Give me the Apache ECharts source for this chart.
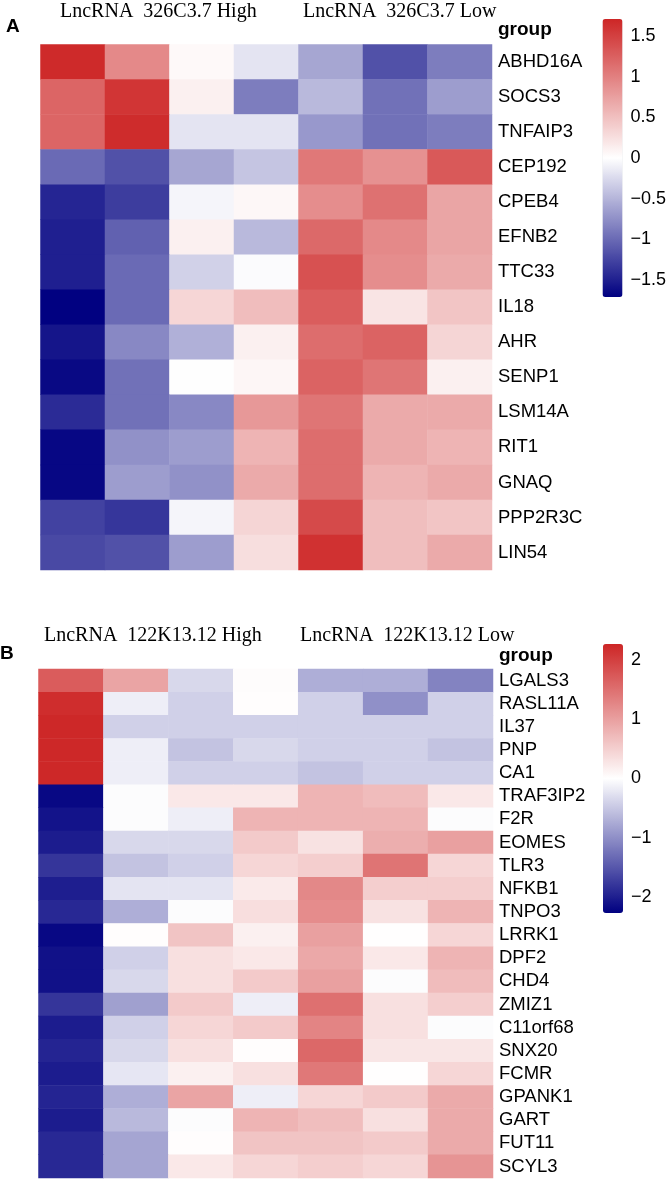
<!DOCTYPE html>
<html>
<head>
<meta charset="utf-8">
<script src="https://cdn.jsdelivr.net/npm/echarts@6.0.0/dist/echarts.min.js"></script>
<style>
  html, body { margin: 0; padding: 0; background: #fff; }
  #chart { width: 671px; height: 1187px; }
</style>
</head>
<body>
<div id="chart"></div>
<script>
  /* ---- data: panel A (LncRNA 326C3.7) ---- */
  const groupsA = ['High', 'High', 'High', 'High', 'Low', 'Low', 'Low'];
  const genesA = ['ABHD16A', 'SOCS3', 'TNFAIP3', 'CEP192', 'CPEB4', 'EFNB2', 'TTC33',
    'IL18', 'AHR', 'SENP1', 'LSM14A', 'RIT1', 'GNAQ', 'PPP2R3C', 'LIN54'];
  const valuesA = [
    [1.68, 0.93, 0.05, -0.18, -0.60, -1.17, -0.87],
    [1.21, 1.59, 0.12, -0.87, -0.47, -0.95, -0.66],
    [1.21, 1.66, -0.18, -0.18, -0.69, -0.95, -0.87],
    [-1.00, -1.17, -0.60, -0.39, 1.06, 0.87, 1.31],
    [-1.46, -1.30, -0.07, 0.06, 0.90, 1.12, 0.71],
    [-1.50, -1.06, 0.12, -0.47, 1.18, 0.93, 0.71],
    [-1.50, -1.00, -0.31, -0.03, 1.37, 0.90, 0.67],
    [-1.70, -1.00, 0.32, 0.52, 1.28, 0.21, 0.46],
    [-1.57, -0.80, -0.53, 0.12, 1.15, 1.23, 0.33],
    [-1.65, -0.95, -0.01, 0.07, 1.23, 1.09, 0.12],
    [-1.42, -0.95, -0.80, 0.81, 1.09, 0.67, 0.67],
    [-1.66, -0.74, -0.66, 0.59, 1.15, 0.67, 0.59],
    [-1.66, -0.66, -0.74, 0.67, 1.15, 0.59, 0.67],
    [-1.27, -1.35, -0.07, 0.33, 1.43, 0.51, 0.46],
    [-1.22, -1.17, -0.66, 0.26, 1.62, 0.51, 0.67]
  ];
  const ticksA = [-1.5, -1, -0.5, 0, 0.5, 1, 1.5];
  const rangeA = [-1.71, 1.71];

  /* ---- data: panel B (LncRNA 122K13.12) ---- */
  const groupsB = ['High', 'High', 'High', 'High', 'Low', 'Low', 'Low'];
  const genesB = ['LGALS3', 'RASL11A', 'IL37', 'PNP', 'CA1', 'TRAF3IP2', 'F2R', 'EOMES',
    'TLR3', 'NFKB1', 'TNPO3', 'LRRK1', 'DPF2', 'CHD4', 'ZMIZ1', 'C11orf68', 'SNX20',
    'FCMR', 'GPANK1', 'GART', 'FUT11', 'SCYL3'];
  const valuesB = [
    [1.70, 0.95, -0.35, 0.03, -0.72, -0.72, -1.10],
    [2.20, -0.15, -0.42, 0.02, -0.42, -0.99, -0.42],
    [2.25, -0.42, -0.42, -0.42, -0.42, -0.42, -0.42],
    [2.25, -0.15, -0.53, -0.35, -0.42, -0.42, -0.53],
    [2.25, -0.15, -0.42, -0.42, -0.53, -0.42, -0.42],
    [-2.20, -0.03, 0.24, 0.24, 0.78, 0.70, 0.24],
    [-2.10, -0.03, -0.15, 0.78, 0.78, 0.78, -0.03],
    [-2.02, -0.35, -0.35, 0.55, 0.30, 0.85, 0.99],
    [-1.80, -0.53, -0.42, 0.43, 0.51, 1.45, 0.43],
    [-2.00, -0.24, -0.24, 0.22, 1.25, 0.51, 0.51],
    [-1.91, -0.72, -0.03, 0.34, 1.20, 0.30, 0.78],
    [-2.20, 0.02, 0.62, 0.16, 0.99, 0.01, 0.43],
    [-2.12, -0.42, 0.32, 0.24, 0.91, 0.24, 0.78],
    [-2.12, -0.35, 0.32, 0.55, 0.99, -0.03, 0.70],
    [-1.80, -0.85, 0.55, -0.15, 1.50, 0.32, 0.51],
    [-2.02, -0.42, 0.43, 0.55, 1.29, 0.32, -0.03],
    [-1.95, -0.35, 0.32, 0.02, 1.58, 0.26, 0.26],
    [-2.02, -0.22, 0.16, 0.32, 1.41, 0.01, 0.43],
    [-1.95, -0.72, 0.95, -0.15, 0.43, 0.55, 0.89],
    [-2.02, -0.62, -0.03, 0.78, 0.68, 0.32, 0.89],
    [-1.91, -0.80, 0.02, 0.62, 0.62, 0.55, 0.89],
    [-1.91, -0.80, 0.24, 0.43, 0.51, 0.43, 1.12]
  ];
  const ticksB = [-2, -1, 0, 1, 2];
  const rangeB = [-2.27, 2.27];

  /* ---- styling ---- */
  const SANS = "'Liberation Sans', Arial, sans-serif";
  const SERIF = "'Liberation Serif', 'Times New Roman', serif";
  const RAMP = ['#000080', '#FFFFFF', '#CD2626'];   // navy -> white -> firebrick3
  const GROUP_COLORS = { High: '#F8948C', Low: '#84B6F8' };
  const cols = groupsA.map((_, i) => 'S' + (i + 1));

  const minus = v => String(v).replace('-', '\u2212');

  function cells(values) {
    const out = [];
    values.forEach((row, r) => row.forEach((v, c) => out.push([c, r, v])));
    return out;
  }

  /* one panel = group strip grid + heatmap grid + colour-key tick grid */
  function panel(p) {
    const g0 = p.gridIndex;
    return {
      grid: [
        { left: p.left, top: p.stripTop, width: p.width, height: p.stripH },
        { left: p.left, top: p.heatTop, width: p.width, height: p.heatH },
        { left: p.keyLeft, top: p.keyTop, width: 20, height: p.keyH }
      ],
      xAxis: [
        { gridIndex: g0, type: 'category', data: cols, show: false },
        { gridIndex: g0 + 1, type: 'category', data: cols, show: false },
        { gridIndex: g0 + 2, type: 'value', show: false, min: 0, max: 1 }
      ],
      yAxis: [
        {
          gridIndex: g0, type: 'category', data: ['group'], position: 'right',
          axisLine: { show: false }, axisTick: { show: false },
          axisLabel: { margin: 6, fontFamily: SANS, fontSize: 19, fontWeight: 'bold', color: '#000' }
        },
        {
          gridIndex: g0 + 1, type: 'category', data: p.genes, inverse: true, position: 'right',
          axisLine: { show: false }, axisTick: { show: false },
          axisLabel: { interval: 0, margin: 6, fontFamily: SANS, fontSize: 18.5, color: '#000' }
        },
        {
          gridIndex: g0 + 2, type: 'value', min: p.range[0], max: p.range[1], position: 'right',
          axisLine: { show: false }, axisTick: { show: false }, splitLine: { show: false },
          axisLabel: {
            customValues: p.ticks, margin: 8, fontFamily: SANS, fontSize: 18, color: '#000',
            formatter: minus
          }
        }
      ],
      series: [
        {
          type: 'bar', xAxisIndex: g0, yAxisIndex: g0,
          barWidth: '100%', barCategoryGap: '0%', silent: true,
          data: p.groups.map(gr => ({ value: 1, itemStyle: { color: GROUP_COLORS[gr] } }))
        },
        {
          type: 'heatmap', xAxisIndex: g0 + 1, yAxisIndex: g0 + 1,
          data: cells(p.values), itemStyle: { borderWidth: 0 }
        }
      ],
      visualMap: {
        type: 'continuous', min: p.range[0], max: p.range[1],
        seriesIndex: p.seriesIndex + 1, calculable: false, padding: 0,
        left: p.keyLeft, top: p.keyTop, itemWidth: 20, itemHeight: p.keyH,
        text: null, showLabel: false, inRange: { color: RAMP }
      }
    };
  }

  const pa = panel({
    gridIndex: 0, seriesIndex: 0, groups: groupsA, genes: genesA, values: valuesA,
    ticks: ticksA, range: rangeA,
    left: 40.5, width: 451.5, stripTop: 21, stripH: 18, heatTop: 44.5, heatH: 525.5,
    keyLeft: 602.5, keyTop: 19, keyH: 278
  });
  const pb = panel({
    gridIndex: 3, seriesIndex: 2, groups: groupsB, genes: genesB, values: valuesB,
    ticks: ticksB, range: rangeB,
    left: 38.5, width: 454.5, stripTop: 647, stripH: 17, heatTop: 669, heatH: 509,
    keyLeft: 603, keyTop: 644, keyH: 269
  });

  const label = (text, x, y, font, size, weight) => ({
    type: 'text', left: x, top: y,
    style: { text, font: (weight || 'normal') + ' ' + size + 'px ' + font, fill: '#000' }
  });

  const chart = echarts.init(document.getElementById('chart'), null, { renderer: 'canvas' });
  chart.setOption({
    backgroundColor: '#fff',
    animation: false,
    grid: pa.grid.concat(pb.grid),
    xAxis: pa.xAxis.concat(pb.xAxis),
    yAxis: pa.yAxis.concat(pb.yAxis),
    series: pa.series.concat(pb.series),
    visualMap: [pa.visualMap, pb.visualMap],
    graphic: [
      label('A', 6, 17, SANS, 19, 'bold'),
      label('LncRNA  326C3.7 High', 60, 2, SERIF, 20),
      label('LncRNA  326C3.7 Low', 303, 2, SERIF, 20),
      label('B', 0, 644, SANS, 19, 'bold'),
      label('LncRNA  122K13.12 High', 44, 626, SERIF, 20),
      label('LncRNA  122K13.12 Low', 300, 626, SERIF, 20)
    ]
  });
</script>
</body>
</html>
